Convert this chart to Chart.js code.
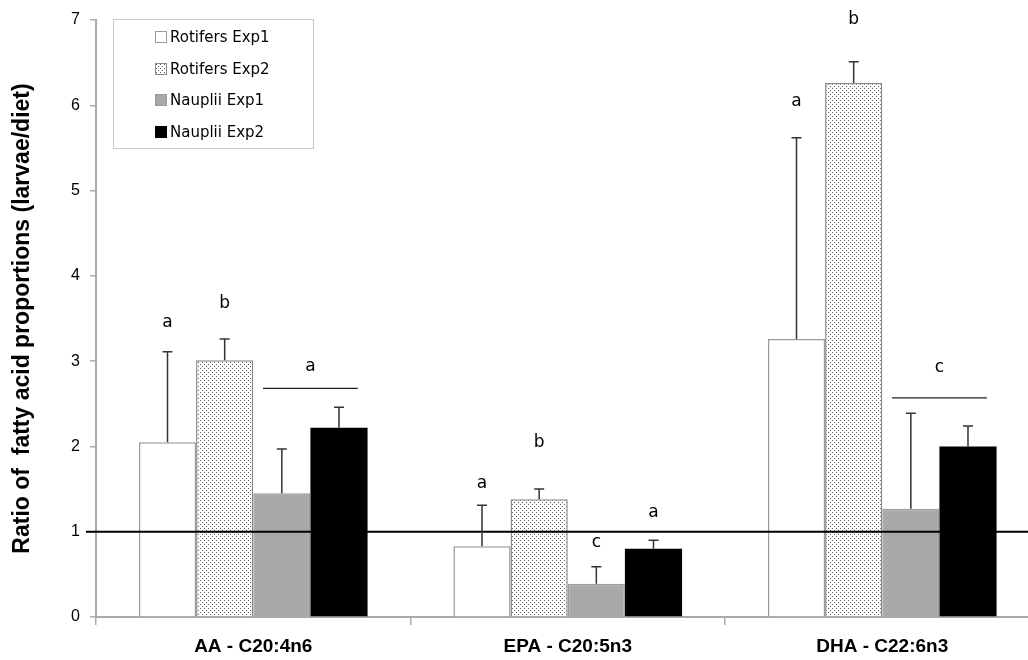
<!DOCTYPE html>
<html>
<head>
<meta charset="utf-8">
<script src="https://cdn.jsdelivr.net/npm/chart.js@4.4.1/dist/chart.umd.min.js"></script>
<style>
  html, body { margin: 0; padding: 0; background: #fff; overflow: hidden; }
  #chart { display: block; }
</style>
</head>
<body>
<canvas id="chart" width="1044" height="660"></canvas>
<script>
// categories and series (ratio larvae/diet)
const categories = ['AA - C20:4n6', 'EPA - C20:5n3', 'DHA - C22:6n3'];
const seriesNames = ['Rotifers Exp1', 'Rotifers Exp2', 'Nauplii Exp1', 'Nauplii Exp2'];

const rotifersExp1 = [2.05, 0.83, 3.26];
const rotifersExp2 = [3.01, 1.38, 6.26];
const naupliiExp1 = [1.45, 0.39, 1.27];
const naupliiExp2 = [2.22, 0.80, 2.00];

// upper error (SD)
const rotifersExp1Err = [1.06, 0.48, 2.36];
const rotifersExp2Err = [0.25, 0.12, 0.25];
const naupliiExp1Err = [0.52, 0.20, 1.12];
const naupliiExp2Err = [0.24, 0.10, 0.24];

// significance letters (value = height on y axis)
const rotifersExp1Letter = ['a', 'a', 'a'];
const rotifersExp1LetterY = [3.45, 1.57, 6.04];
const rotifersExp2Letter = ['b', 'b', 'b'];
const rotifersExp2LetterY = [3.68, 2.04, 7.0];
const naupliiExp1Letter = ['', 'c', ''];
const naupliiExp1LetterY = [null, 0.87, null];
const naupliiExp2Letter = ['', 'a', ''];
const naupliiExp2LetterY = [null, 1.22, null];
// shared letter over both Nauplii bars
const naupliiPairLetter = ['a', '', 'c'];
const naupliiPairLetterY = [2.94, null, 2.92];
const naupliiPairLineY = [2.68, null, 2.57];

const yTicks = [0, 1, 2, 3, 4, 5, 6, 7];
const refLineValue = 1;

const errors = [rotifersExp1Err, rotifersExp2Err, naupliiExp1Err, naupliiExp2Err];
const letters = [rotifersExp1Letter, rotifersExp2Letter, naupliiExp1Letter, naupliiExp2Letter];
const lettersY = [rotifersExp1LetterY, rotifersExp2LetterY, naupliiExp1LetterY, naupliiExp2LetterY];

// stippled fill
function makeStipple() {
    const c = document.createElement('canvas');
    c.width = 4; c.height = 4;
    const g = c.getContext('2d');
    g.fillStyle = '#ffffff';
    g.fillRect(0, 0, 4, 4);
    g.fillStyle = '#5a5a5a';
    g.fillRect(0, 0, 1, 1);
    g.fillRect(2, 2, 1, 1);
    return g.createPattern(c, 'repeat');
}
const stipple = makeStipple();

const fills = ['#ffffff', stipple, '#aaa7a7', '#000000'];
const borders = ['#9a9a9a', '#8a8a8a', '#9a9a9a', '#000000'];

const annotations = {
    id: 'annotations',
    afterDatasetsDraw(chart) {
        const ctx = chart.ctx;
        const y = chart.scales.y;
        const area = chart.chartArea;

        // reference line at 1
        ctx.save();
        ctx.strokeStyle = '#000';
        ctx.lineWidth = 2;
        ctx.beginPath();
        ctx.moveTo(area.left - 10, y.getPixelForValue(refLineValue));
        ctx.lineTo(chart.width, y.getPixelForValue(refLineValue));
        ctx.stroke();

        // error bars
        ctx.strokeStyle = '#333';
        ctx.lineWidth = 1.5;
        chart.data.datasets.forEach((ds, i) => {
            const meta = chart.getDatasetMeta(i);
            meta.data.forEach((bar, j) => {
                const top = y.getPixelForValue(ds.data[j] + errors[i][j]);
                ctx.beginPath();
                ctx.moveTo(bar.x, bar.y);
                ctx.lineTo(bar.x, top);
                ctx.moveTo(bar.x - 5, top);
                ctx.lineTo(bar.x + 5, top);
                ctx.stroke();
            });
        });

        // letters
        ctx.fillStyle = '#000';
        ctx.font = '17px "DejaVu Sans"';
        ctx.textAlign = 'center';
        ctx.textBaseline = 'middle';
        chart.data.datasets.forEach((ds, i) => {
            const meta = chart.getDatasetMeta(i);
            meta.data.forEach((bar, j) => {
                if (!letters[i][j]) return;
                ctx.fillText(letters[i][j], bar.x, y.getPixelForValue(lettersY[i][j]));
            });
        });

        // shared letter + line over Nauplii pair
        const n1 = chart.getDatasetMeta(2).data;
        const n2 = chart.getDatasetMeta(3).data;
        ctx.lineWidth = 1.2;
        ctx.strokeStyle = '#222';
        naupliiPairLetter.forEach((txt, j) => {
            if (!txt) return;
            const x0 = n1[j].x - n1[j].width * 0.33;
            const x1 = n2[j].x + n2[j].width * 0.33;
            const ly = y.getPixelForValue(naupliiPairLineY[j]);
            ctx.beginPath();
            ctx.moveTo(x0, ly);
            ctx.lineTo(x1, ly);
            ctx.stroke();
            ctx.fillText(txt, (n1[j].x + n2[j].x) / 2, y.getPixelForValue(naupliiPairLetterY[j]));
        });
        ctx.restore();
    },
    afterDraw(chart) {
        // legend box
        const ctx = chart.ctx;
        ctx.save();
        ctx.fillStyle = '#fff';
        ctx.fillRect(113, 19, 200, 129);
        ctx.strokeStyle = '#c8c8c8';
        ctx.lineWidth = 1;
        ctx.strokeRect(113.5, 19.5, 200, 129);
        const rows = [37, 69, 100, 132];
        ctx.font = '15px "DejaVu Sans"';
        ctx.textAlign = 'left';
        ctx.textBaseline = 'middle';
        chart.data.datasets.forEach((ds, i) => {
            const cy = rows[i];
            ctx.fillStyle = ds.backgroundColor;
            ctx.fillRect(155, cy - 6, 11, 11);
            ctx.strokeStyle = ds.borderColor;
            ctx.strokeRect(155.5, cy - 5.5, 11, 11);
            ctx.fillStyle = '#000';
            ctx.fillText(ds.label, 170, cy + 1);
        });
        ctx.restore();
    }
};

const datasets = [rotifersExp1, rotifersExp2, naupliiExp1, naupliiExp2].map((vals, i) => ({
    label: seriesNames[i],
    data: vals,
    backgroundColor: fills[i],
    borderColor: borders[i],
    borderWidth: i === 3 ? 0 : 1.5,
    borderSkipped: 'bottom',
    categoryPercentage: 0.727,
    barPercentage: 1.0
}));

new Chart(document.getElementById('chart'), {
    type: 'bar',
    data: { labels: categories, datasets: datasets },
    options: {
        responsive: false,
        devicePixelRatio: 1,
        animation: false,
        layout: { padding: { top: 20, right: 4.5, left: 0, bottom: 0 } },
        plugins: { legend: { display: false }, tooltip: { enabled: false } },
        scales: {
            x: {
                grid: { offset: true, drawOnChartArea: false, tickLength: 8, color: '#aaa', lineWidth: 1.5 },
                border: { color: '#aaa', width: 2 },
                ticks: { color: '#000', padding: 10, font: { family: 'Liberation Sans', size: 19, weight: 'bold' } },
                afterFit(scale) { scale.height = 43; }
            },
            y: {
                min: 0,
                max: 7,
                afterBuildTicks(scale) { scale.ticks = yTicks.map(v => ({ value: v })); },
                grid: { drawOnChartArea: false, tickLength: 6, color: '#aaa', lineWidth: 1.5 },
                border: { color: '#aaa', width: 2 },
                ticks: { color: '#000', padding: 10, font: { family: 'Liberation Sans', size: 16 } },
                title: {
                    display: true,
                    text: 'Ratio of  fatty acid proportions (larvae/diet)',
                    color: '#000',
                    padding: { top: 9, bottom: 0 },
                    font: { family: 'Liberation Sans', size: 23, weight: 'bold' }
                },
                afterFit(scale) { scale.width = 96; }
            }
        }
    },
    plugins: [annotations]
});
</script>
</body>
</html>
